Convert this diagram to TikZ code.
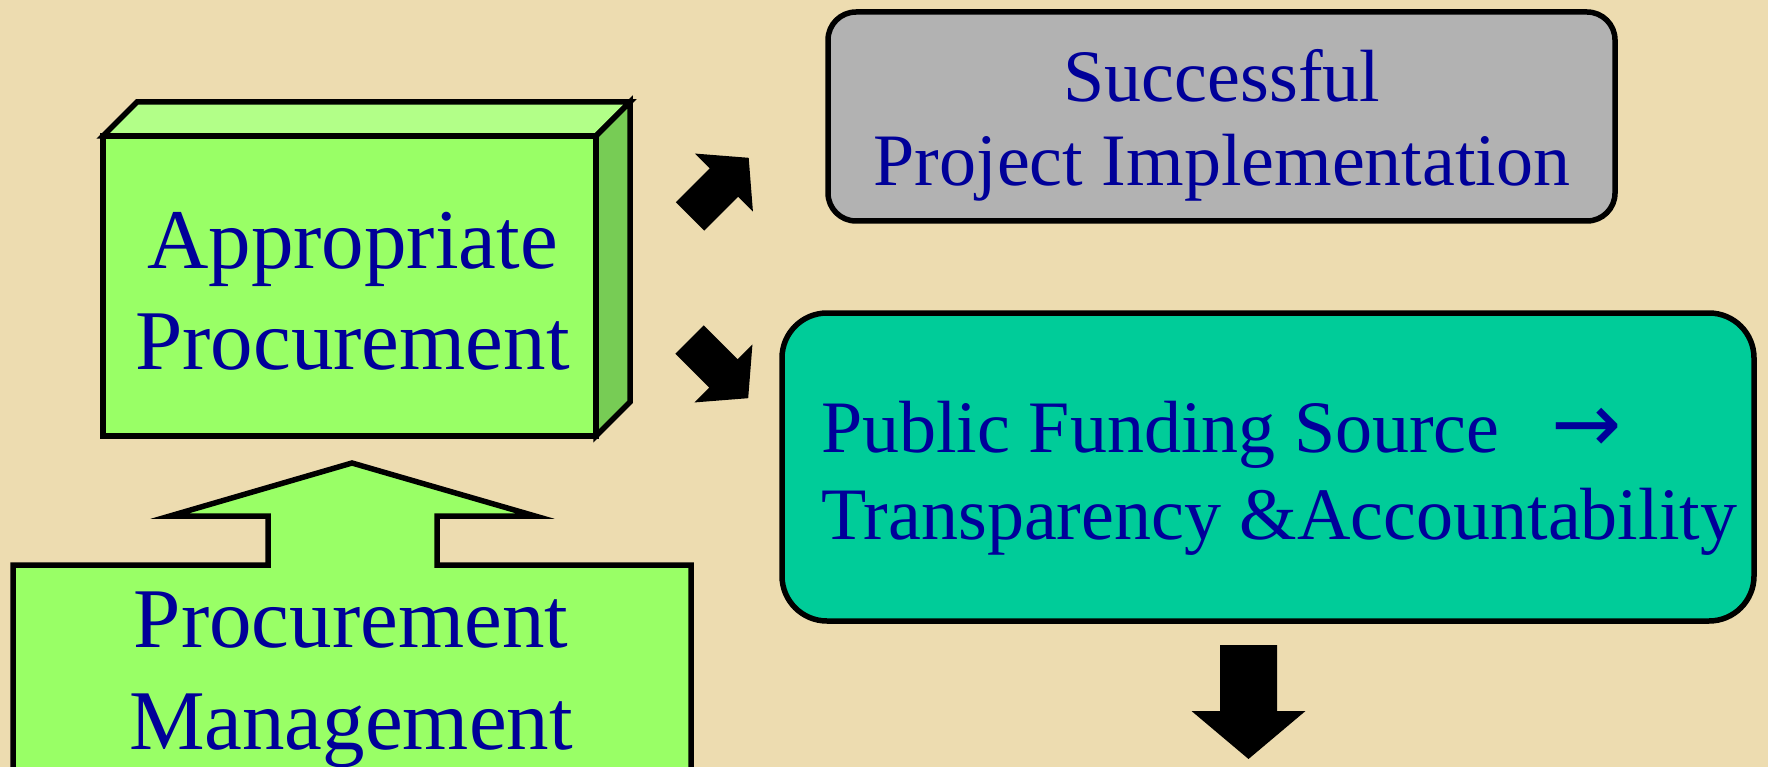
\documentclass[tikz,border=0pt]{standalone}
\usepackage{fontspec}
\setmainfont{Liberation Serif}
\newfontfamily\arrowfont{DejaVu Sans}
\usepackage{tikz}

\definecolor{paper}{RGB}{237,220,176}
\definecolor{frontgreen}{RGB}{153,255,102}
\definecolor{topgreen}{RGB}{178,255,136}
\definecolor{sidegreen}{RGB}{119,204,85}
\definecolor{boxgrey}{RGB}{178,178,178}
\definecolor{boxteal}{RGB}{0,204,153}
\definecolor{txtblue}{RGB}{0,0,153}

\tikzset{
  edge/.style={draw=black, line width=5.5pt, line join=miter},
  greenbox/.style={edge, fill=frontgreen, outer sep=0pt, inner sep=0pt},
  roundbox/.style={edge, outer sep=0pt, inner sep=0pt},
  boxtext/.style={text=txtblue, inner sep=0pt},
  pics/blockarrow/.style n args={4}{code={
    \fill (0,-#1) -- (#2,-#1) -- (#2,-#3) -- (#4,0) -- (#2,#3) -- (#2,#1) -- (0,#1) -- cycle;
  }}
}

\begin{document}
\begin{tikzpicture}[x=1pt, y=-1pt]

            \useasboundingbox (0,0) rectangle (1768,767);
            \clip (0,0) rectangle (1768,767);
            \fill[paper] (0,0) rectangle (1768,767);

            % 3d box
            \node[greenbox, minimum width=493pt, minimum height=300pt] (appr) at (349.5,286) {};
            \filldraw[edge, fill=topgreen] (appr.north west) -- ++(34,-34) -- ++(493,0) -- (appr.north east) -- cycle;
            \filldraw[edge, fill=sidegreen] (appr.north east) -- ++(34,-34) -- ++(0,300) -- (appr.south east) -- cycle;
            \node[boxtext, align=center, font=\fontsize{85}{101}\selectfont] (apprtxt) at (352.5,291) {Appropriate\\Procurement};

            \filldraw[edge, fill=frontgreen] (13,830) |- (268,565) |- (170,516) -- (352,463) -- (535,516) -| (437,565) -| (691,830) -- cycle;
            \node[boxtext, align=center, font=\fontsize{85}{102}\selectfont] (mgmt) at (351,680) {Procurement\\Management};

            \node[roundbox, fill=boxgrey, rounded corners=28pt, minimum width=787pt, minimum height=209pt] (succ) at (1221.5,116.5) {};
            \node[boxtext, align=center, font=\fontsize{74}{84}\selectfont] (succtxt) at (1222,125) {Successful\\Project Implementation};

            \node[roundbox, fill=boxteal, rounded corners=45pt, minimum width=972pt, minimum height=308pt] (fund) at (1268,467) {};
            \node[boxtext, align=left, anchor=west, font=\fontsize{74}{87}\selectfont] (fundtxt) at (821,478) {Public Funding Source\hspace{0.7em}{\arrowfont\fontsize{84}{87}\selectfont →}\\Transparency \&Accountability};

            \pic[rotate=45] at (690,216.5) {blockarrow={20}{48}{41}{83}};
            \pic[rotate=-45] at (689.5,339.5) {blockarrow={20}{48}{41}{83}};
            \pic[rotate=-90] at (1248.5,645) {blockarrow={28.5}{66}{57}{114}};

\end{tikzpicture}
\end{document}
